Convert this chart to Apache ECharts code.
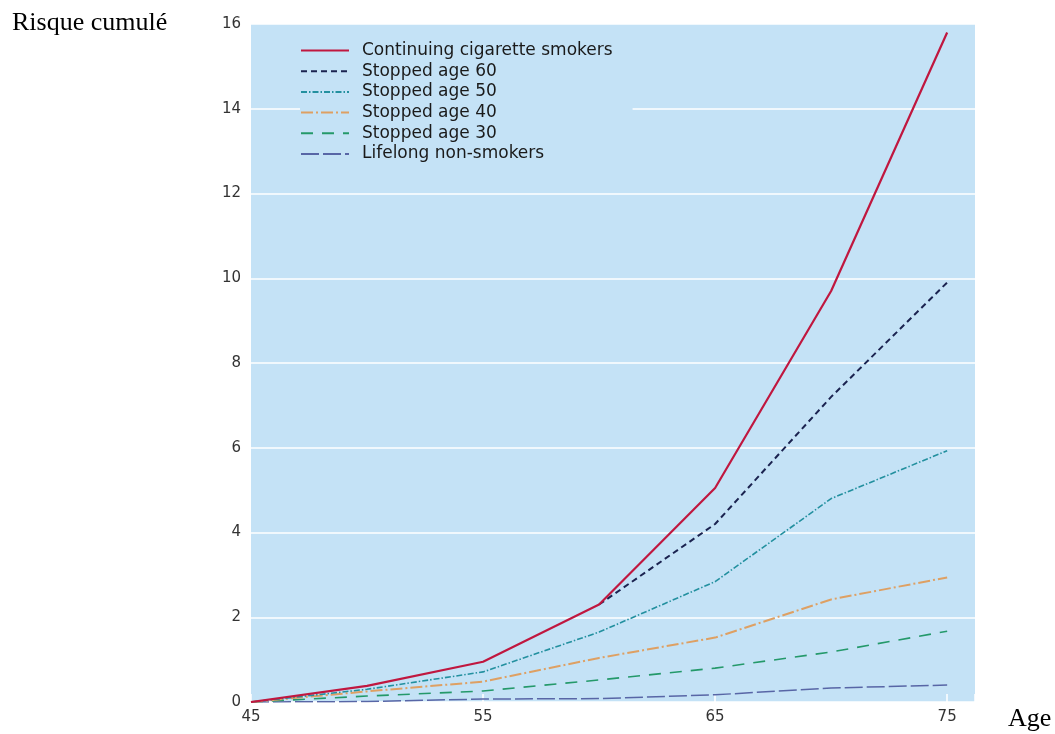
<!DOCTYPE html>
<html>
<head>
<meta charset="utf-8">
<script src="https://cdn.jsdelivr.net/npm/echarts@6/dist/echarts.min.js"></script>
<style>
html,body{margin:0;padding:0;background:#fff;}
#chart{width:1055px;height:734px;}
</style>
</head>
<body>
<div id="chart"></div>
<script>
const ages = [45, 50, 55, 60, 65, 70, 75];
const seriesNames = [
  'Continuing cigarette smokers',
  'Stopped age 60',
  'Stopped age 50',
  'Stopped age 40',
  'Stopped age 30',
  'Lifelong non-smokers'
];
const continuing = [0, 0.38, 0.95, 2.3, 5.05, 9.7, 15.8];
const stopped60 = [null, null, null, 2.3, 4.2, 7.2, 9.9];
const stopped50 = [0, 0.3, 0.71, 1.65, 2.84, 4.8, 5.93];
const stopped40 = [0, 0.25, 0.48, 1.04, 1.52, 2.42, 2.94];
const stopped30 = [0, 0.14, 0.26, 0.52, 0.8, 1.18, 1.67];
const nonSmokers = [0, 0.01, 0.07, 0.08, 0.17, 0.33, 0.4];
const yTicks = [0, 2, 4, 6, 8, 10, 12, 14, 16];
const xTicks = [45, 55, 65, 75];

const allValues = [continuing, stopped60, stopped50, stopped40, stopped30, nonSmokers];
const styles = [
  {color: '#c0173f', width: 2.2, type: 'solid'},
  {color: '#1b2350', width: 2, type: [6, 4]},
  {color: '#23909f', width: 1.6, type: [6, 2, 1.5, 2]},
  {color: '#dea063', width: 2, type: [12, 3, 2, 3]},
  {color: '#24996a', width: 1.6, type: [12, 9]},
  {color: '#5866a6', width: 1.5, type: [18, 4]}
];

const series = seriesNames.map((name, i) => ({
  name: name,
  type: 'line',
  symbol: 'none',
  connectNulls: false,
  data: ages.map((a, j) => [a, allValues[i][j]]).filter(p => p[1] !== null),
  lineStyle: {color: styles[i].color, width: styles[i].width, type: styles[i].type},
  itemStyle: {color: styles[i].color},
  z: 10 - i
}));

const chart = echarts.init(document.getElementById('chart'), null, {renderer: 'canvas'});
chart.setOption({
  animation: false,
  backgroundColor: '#ffffff',
  grid: {
    left: 251, right: 80, top: 24, bottom: 32,
    show: true, backgroundColor: '#c4e2f6', borderWidth: 0
  },
  xAxis: {
    type: 'value', min: 45, max: 76.2, interval: 10,
    axisLine: {show: false},
    axisTick: {show: true, inside: true, length: 8, lineStyle: {color: '#ffffff', width: 1.5}},
    splitLine: {show: false},
    axisLabel: {
      margin: 8,
      fontFamily: 'DejaVu Sans', fontSize: 15, color: '#333',
      formatter: v => (xTicks.indexOf(v) >= 0 ? String(v) : '')
    }
  },
  yAxis: {
    type: 'value', min: 0, max: 16, interval: 2,
    axisLine: {show: false},
    axisTick: {show: false},
    splitLine: {show: true, lineStyle: {color: '#ffffff', width: 1.5}},
    axisLabel: {
      margin: 10,
      fontFamily: 'DejaVu Sans', fontSize: 15, color: '#333',
      formatter: v => (yTicks.indexOf(v) >= 0 ? String(v) : '')
    }
  },
  legend: {
    orient: 'vertical',
    left: 300, top: 42,
    padding: [0, 20, 2, 0],
    itemWidth: 48, itemHeight: 14, itemGap: 3.7,
    itemStyle: {opacity: 0},
    backgroundColor: '#c4e2f6',
    textStyle: {fontFamily: 'DejaVu Sans', fontSize: 17, color: '#1a1a1a', lineHeight: 16, padding: [0, 0, 0, 8]},
    data: seriesNames
  },
  graphic: [
    {type: 'text', left: 12, top: 10, style: {text: 'Risque cumulé', font: '26px "Liberation Serif"', fill: '#000'}},
    {type: 'text', left: 1008, top: 706, style: {text: 'Age', font: '26px "Liberation Serif"', fill: '#000'}}
  ],
  series: series
});
</script>
</body>
</html>
